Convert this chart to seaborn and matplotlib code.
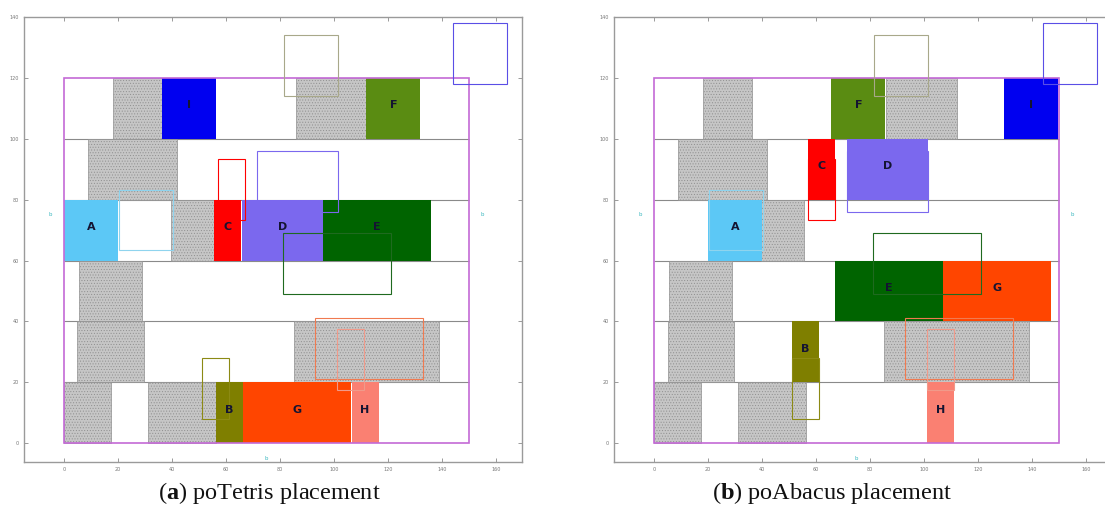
import seaborn as sns
import matplotlib.pyplot as plt

sns.set_theme(style="white")
plt.rcParams["font.family"] = ["DejaVu Sans"]
plt.rcParams["mathtext.fontset"] = "custom"
plt.rcParams["mathtext.rm"] = "Liberation Serif"
plt.rcParams["mathtext.bf"] = "Liberation Serif:bold"
plt.rcParams["hatch.linewidth"] = 0.4

# movable cells
cells = ['A', 'B', 'C', 'D', 'E', 'F', 'G', 'H', 'I']
cell_w = [20, 10, 10, 30, 40, 20, 40, 10, 20]
cell_h = [20, 20, 20, 20, 20, 20, 20, 20, 20]
cell_colors = ['#5cc8f6', '#7f7f00', '#ff0000', '#7b68ee', '#006400',
               '#5a8c12', '#ff4500', '#fa8072', '#0000f0']
outline_colors = ['#8fd4ee', '#8c8a14', '#ff0000', '#7b68ee', '#1f6a1f',
                  '#a8a88a', '#f07a50', '#f09a8a', '#5a4ee6']
# global placement (outlines)
orig_x = [20.5, 51, 57, 71.5, 81, 81.5, 93, 101, 144]
orig_y = [63.3, 8, 73.4, 76, 49, 114, 21, 17.5, 118]
# legalized positions
tetris_x = [0, 56.3, 55.6, 66, 96, 112, 66.3, 106.5, 36.3]
tetris_y = [60, 0, 60, 60, 60, 100, 0, 0, 100]
abacus_x = [20, 51, 57, 71.5, 67, 65.7, 107, 101, 129.5]
abacus_y = [60, 20, 80, 80, 40, 100, 40, 0, 100]

# fixed blockages
blk_x0 = [18, 86, 9, 39.5, 5.5, 5, 85, 0, 31]
blk_x1 = [36.3, 112, 42, 55.5, 29, 29.5, 139, 17.5, 56.3]
blk_y = [100, 100, 80, 60, 40, 20, 20, 0, 0]

row_y = [20, 40, 60, 80, 100]
chip_w, chip_h = 150, 120
pin_x = [-5, 155, 75]
pin_y = [75, 75, -5]

captions = [r'($\mathbf{a}$) poTetris placement', r'($\mathbf{b}$) poAbacus placement']
placements = [(tetris_x, tetris_y), (abacus_x, abacus_y)]

fig = plt.figure(figsize=(11.05, 5.18), dpi=100)
lefts = [0.0217, 0.5557]
cap_x = [0.244, 0.753]

for k, (px, py) in enumerate(placements):
    ax = fig.add_axes([lefts[k], 0.1081, 0.4507, 0.859])
    ax.set_xlim(-14.8, 169.6)
    ax.set_ylim(-6.2, 139.7)

    ax.hlines(row_y, 0, chip_w, color='#8a8a8a', lw=0.8, zorder=1)

    bw = [b - a for a, b in zip(blk_x0, blk_x1)]
    ax.bar(blk_x0, [20] * len(blk_y), width=bw, bottom=blk_y, align='edge',
           color='#c6c6c6', edgecolor='#8f8f8f', hatch='......', lw=0.5, zorder=2)

    ax.bar(px, cell_h, width=cell_w, bottom=py, align='edge',
           color=cell_colors, lw=0, zorder=3)

    ax.bar(0, chip_h, width=chip_w, bottom=0, align='edge', fill=False,
           edgecolor='#c46ad6', lw=1.2, zorder=4)

    # global-placement positions on top
    ax.bar(orig_x, cell_h, width=cell_w, bottom=orig_y, align='edge', fill=False,
           edgecolor=outline_colors, lw=0.8, zorder=5)

    for name, x, y, w, h in zip(cells, px, py, cell_w, cell_h):
        ax.text(x + w / 2, y + h / 2 + 1, name, ha='center', va='center',
                fontsize=8, fontweight='bold', color='#141432', zorder=6)

    for x, y in zip(pin_x, pin_y):
        ax.text(x, y, 'b', ha='center', va='center', fontsize=4,
                color='#3cb8c0', zorder=6)

    ax.set_xticks(range(0, 161, 20))
    ax.set_yticks(range(0, 141, 20))
    ax.tick_params(direction='in', length=3, width=0.6, colors='#8a8a8a',
                   labelsize=3.5, labelcolor='#777777',
                   top=True, right=True, bottom=True, left=True)
    for s in ax.spines.values():
        s.set_color('#9a9a9a')
        s.set_linewidth(1.0)
    ax.set_facecolor('white')

    fig.text(cap_x[k], 0.048, captions[k], ha='center', va='center',
             fontsize=17.5, family='Liberation Serif', color='#111111')

fig.savefig('out.png', dpi=100)
